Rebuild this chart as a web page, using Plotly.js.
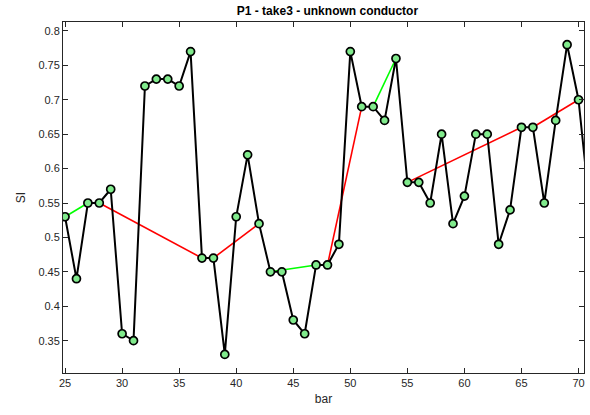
<!DOCTYPE html>
<html><head><meta charset="utf-8">
<script src="https://cdn.plot.ly/plotly-3.0.1.min.js"></script>
<style>html,body{margin:0;padding:0;background:#fff}#chart{width:590px;height:415px}</style>
</head><body><div id="chart"></div>
<script>
var bars = [25,26,27,28,29,30,31,32,33,34,35,36,37,38,39,40,41,42,43,44,45,46,47,48,49,50,51,52,53,54,55,56,57,58,59,60,61,62,63,64,65,66,67,68,69,70,71];
var si = [0.53,0.44,0.55,0.55,0.57,0.36,0.35,0.72,0.73,0.73,0.72,0.77,0.47,0.47,0.33,0.53,0.62,0.52,0.45,0.45,0.38,0.36,0.46,0.46,0.49,0.77,0.69,0.69,0.67,0.76,0.58,0.58,0.55,0.65,0.52,0.56,0.65,0.65,0.49,0.54,0.66,0.66,0.55,0.67,0.78,0.70,0.54];
// trend segments: [startBar, endBar]
var greenSegs = [[25,27],[43,47],[52,54]];
var redSegs = [[28,37],[38,42],[48,51],[55,65],[66,70]];
var yTicks = [0.35,0.4,0.45,0.5,0.55,0.6,0.65,0.7,0.75,0.8];
var yTickText = ['0.35','0.4','0.45','0.5','0.55','0.6','0.65','0.7','0.75','0.8'];
var xTicks = [25,30,35,40,45,50,55,60,65,70];

function segTrace(segs, color){
  var x=[], y=[];
  segs.forEach(function(s){
    x.push(s[0]); y.push(si[bars.indexOf(s[0])]);
    x.push(s[1]); y.push(si[bars.indexOf(s[1])]);
    x.push(null); y.push(null);
  });
  return {x:x,y:y,mode:'lines',line:{color:color,width:1.6},hoverinfo:'skip',showlegend:false,cliponaxis:true};
}
var traces = [
  segTrace(greenSegs,'#00ff00'),
  segTrace(redSegs,'#ff0000'),
  {x:bars,y:si,mode:'lines+markers',showlegend:false,
   line:{color:'#000000',width:2},
   marker:{size:8,color:'#80ea8c',line:{color:'#000000',width:1.7}},
   cliponaxis:true}
];
var axisCommon = {showline:true,linecolor:'#262626',linewidth:1,mirror:'allticks',ticks:'inside',ticklen:5,tickcolor:'#262626',
  showgrid:false,zeroline:false,tickfont:{family:'Liberation Sans, Arial, sans-serif',size:11,color:'#262626'}};
var layout = {
  width:590,height:415,paper_bgcolor:'#ffffff',plot_bgcolor:'#ffffff',
  margin:{l:63,r:6,t:22,b:42},
  title:{text:'<b>P1 - take3 - unknown conductor</b>',font:{family:'Liberation Sans, Arial, sans-serif',size:12,color:'#000'},x:0.555,xanchor:'center',y:0.985,yanchor:'top'},
  xaxis:Object.assign({},axisCommon,{range:[24.82,70.48],tickvals:xTicks,ticktext:xTicks.map(String),
    title:{text:'bar',font:{family:'Liberation Sans, Arial, sans-serif',size:12,color:'#262626'},standoff:6}}),
  yaxis:Object.assign({},axisCommon,{range:[0.303,0.813],tickvals:yTicks,ticktext:yTickText,
    title:{text:'SI',font:{family:'Liberation Sans, Arial, sans-serif',size:12,color:'#262626'},standoff:10}})
};
Plotly.newPlot('chart',traces,layout,{displayModeBar:false,staticPlot:true});
</script></body></html>
